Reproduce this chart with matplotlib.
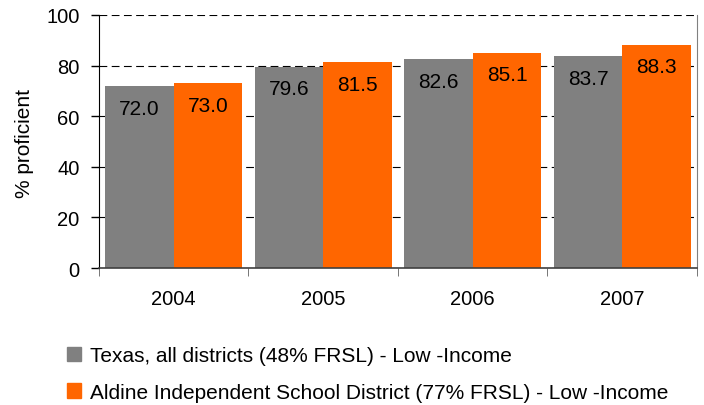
import numpy as np
import matplotlib.pyplot as plt
from matplotlib.patches import Patch

years = ["2004", "2005", "2006", "2007"]
texas = [72.0, 79.6, 82.6, 83.7]
aldine = [73.0, 81.5, 85.1, 88.3]
series_names = [
    "Texas, all districts (48% FRSL) - Low -Income",
    "Aldine Independent School District (77% FRSL) - Low -Income",
]
colors = ["#808080", "#FF6600"]


def main():
    plt.rcParams['font.family'] = ['Liberation Sans', 'DejaVu Sans']
    fig = plt.figure(figsize=(7.04, 4.06), dpi=100)
    ax = fig.add_axes([0.1406, 0.3374, 0.8494, 0.6232])

    x = np.arange(len(years))
    w = 0.458
    for i, vals in enumerate([texas, aldine]):
        pos = x + (i - 0.5) * w
        bars = ax.bar(pos, vals, width=w, color=colors[i], zorder=2)
        for b, v in zip(bars, vals):
            ax.annotate(f"{v:.1f}", (b.get_x() + b.get_width() / 2, v),
                        xytext=(0, -16), textcoords="offset points",
                        ha="center", va="center", fontsize=15, zorder=3)

    ax.set_xlim(-0.5, len(years) - 0.5)
    ax.set_ylim(0, 100)
    ax.set_yticks(range(0, 101, 20))
    ax.yaxis.grid(True, linestyle=(0, (7, 4)), color="black", linewidth=0.8, zorder=1)
    ax.set_axisbelow(True)
    ax.tick_params(axis="y", labelsize=14.5, length=6, width=1, direction="out", pad=8)

    ax.set_xticks(x)
    ax.set_xticklabels(years, fontsize=14.5)
    ax.set_xticks(np.arange(-0.5, len(years)), minor=True)
    ax.tick_params(axis="x", which="major", length=0, pad=15)
    ax.tick_params(axis="x", which="minor", length=6, color="#606060")

    ax.spines["top"].set_visible(False)
    ax.spines["left"].set_color("black")
    ax.spines["bottom"].set_color("#404040")
    ax.spines["bottom"].set_linewidth(1.2)
    ax.spines["right"].set_color("#808080")

    ax.set_ylabel("% proficient", fontsize=15)
    ax.yaxis.set_label_coords(34 / 704, (406 - 144) / 406, transform=fig.transFigure)

    handles = [Patch(color=c) for c in colors]
    fig.legend(handles, series_names, loc="upper left",
               bbox_to_anchor=(0.095, 0.145), frameon=False, fontsize=15,
               handlelength=0.7, handleheight=0.7, handletextpad=0.4,
               labelspacing=0.85, borderpad=0, borderaxespad=0)

    fig.savefig("out.png", dpi=100)


if __name__ == '__main__':
    main()
